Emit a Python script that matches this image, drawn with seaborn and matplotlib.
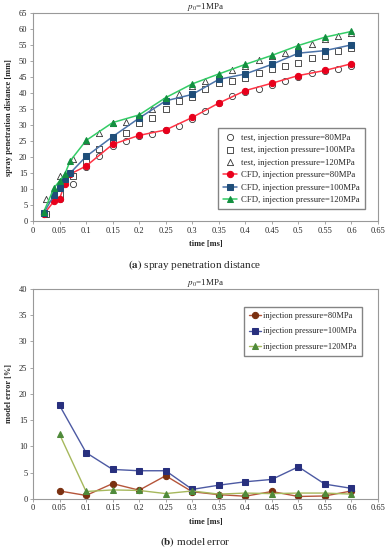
import numpy as np
import pandas as pd
import seaborn as sns
import matplotlib.pyplot as plt

# time points
t_test = [0.025, 0.05, 0.075, 0.1, 0.125, 0.15, 0.175, 0.2, 0.225, 0.25, 0.275, 0.3,
          0.325, 0.35, 0.375, 0.4, 0.425, 0.45, 0.475, 0.5, 0.525, 0.55, 0.575, 0.6]
t_cfd = [0.02, 0.04, 0.05, 0.06, 0.07, 0.1, 0.15, 0.2, 0.25, 0.3, 0.35, 0.4, 0.45,
         0.5, 0.55, 0.6]
t_err = [0.05, 0.1, 0.15, 0.2, 0.25, 0.3, 0.35, 0.4, 0.45, 0.5, 0.55, 0.6]

# spray penetration distance [mm], test data
test_80 = [2.2, 7.0, 11.6, 17.0, 20.3, 23.5, 25.0, 26.5, 27.3, 28.5, 29.8, 32.0,
           34.5, 37.0, 39.0, 40.5, 41.3, 42.5, 43.9, 45.2, 46.2, 47.0, 47.6, 48.6]
test_100 = [2.2, 8.6, 14.2, 18.9, 22.6, 25.4, 27.5, 30.6, 32.2, 35.1, 37.4, 38.9,
            41.2, 43.1, 43.8, 44.7, 46.2, 47.5, 48.5, 49.4, 50.9, 51.7, 53.2, 54.0]
test_120 = [7.0, 14.0, 19.4, 25.1, 27.5, 30.6, 31.1, 32.5, 35.0, 38.1, 39.8, 42.3,
            43.8, 45.5, 47.1, 48.5, 50.4, 51.5, 52.5, 54.6, 55.3, 57.0, 58.0, 58.8]

# spray penetration distance [mm], CFD
cfd_80 = [2.1, 6.3, 7.0, 11.6, 14.7, 17.2, 24.0, 26.8, 28.5, 32.4, 36.9, 40.8, 43.1,
          45.5, 47.1, 49.2]
cfd_100 = [2.5, 8.2, 10.3, 13.1, 15.0, 20.2, 26.4, 32.2, 37.6, 39.6, 44.3, 46.0, 49.0,
           52.5, 53.3, 55.1]
cfd_120 = [2.8, 10.5, 12.5, 14.7, 18.8, 25.2, 30.8, 33.2, 38.6, 42.9, 46.0, 49.0, 51.8,
           54.9, 57.5, 59.3]

# model error [%]
err_80 = [1.5, 0.65, 2.9, 1.65, 4.4, 1.35, 0.8, 0.5, 1.4, 0.45, 0.55, 1.5]
err_100 = [17.8, 8.8, 5.6, 5.35, 5.35, 1.8, 2.6, 3.25, 3.7, 6.1, 2.8, 2.0]
err_120 = [12.3, 1.4, 1.7, 1.6, 1.0, 1.5, 0.9, 1.1, 1.0, 1.1, 1.1, 0.9]

sns.set_style("ticks")
plt.rcParams['font.family'] = ['Liberation Serif', 'DejaVu Serif']
plt.rcParams['mathtext.fontset'] = 'stix'
plt.rcParams['font.size'] = 6

fig = plt.figure(figsize=(3.9, 5.5), dpi=100)
ax1 = fig.add_axes([0.0846, 0.598, 0.8846, 0.378])
ax2 = fig.add_axes([0.0846, 0.093, 0.8846, 0.382])

# (a) spray penetration distance
tests = [("test, injection pressure=80MPa", test_80, "o"),
         ("test, injection pressure=100MPa", test_100, "s"),
         ("test, injection pressure=120MPa", test_120, "^")]
for label, vals, mk in tests:
    sns.scatterplot(x=t_test, y=vals, marker=mk, s=20, facecolor="white",
                    edgecolor="#333333", linewidth=0.6, label=label, ax=ax1, zorder=3)

cfds = [("CFD, injection pressure=80MPa", cfd_80, "o", "#ff3344", "#e8001c"),
        ("CFD, injection pressure=100MPa", cfd_100, "s", "#4a72a8", "#1f4e79"),
        ("CFD, injection pressure=120MPa", cfd_120, "^", "#33cc66", "#139040")]
for label, vals, mk, lc, mc in cfds:
    sns.lineplot(x=t_cfd, y=vals, color=lc, marker=mk, markersize=4.5,
                 markerfacecolor=mc, markeredgecolor=mc, linewidth=1.1,
                 label=label, ax=ax1, zorder=4)

ax1.set_xlim(0, 0.65)
ax1.set_ylim(0, 65)
ax1.set_xticks(np.arange(0, 0.651, 0.05))
ax1.set_xticklabels(["0"] + [f"{v:g}" for v in np.arange(0.05, 0.651, 0.05).round(2)])
ax1.set_yticks(range(0, 66, 5))
ax1.set_xlabel("time [ms]", fontweight="bold", fontsize=6)
ax1.set_ylabel("spray penetration distance [mm]", fontweight="bold", fontsize=6)
ax1.set_title(r"$p_0$=1MPa", fontsize=6.5, pad=3)
ax1.legend(loc="lower right", fontsize=6.3, frameon=True, fancybox=False,
           edgecolor="#666666", handlelength=1.6, borderpad=0.6,
           labelspacing=0.5, handletextpad=0.4, bbox_to_anchor=(0.975, 0.035))

# (b) model error
errs = [("injection pressure=80MPa", err_80, "o", "#b5553a", "#7a3010"),
        ("injection pressure=100MPa", err_100, "s", "#4d5aa3", "#28307e"),
        ("injection pressure=120MPa", err_120, "^", "#a6b85c", "#4f8a3a")]
for label, vals, mk, lc, mc in errs:
    sns.lineplot(x=t_err, y=vals, color=lc, marker=mk, markersize=4.5,
                 markerfacecolor=mc, markeredgecolor=mc, linewidth=1.0,
                 label=label, ax=ax2)

ax2.set_xlim(0, 0.65)
ax2.set_ylim(0, 40)
ax2.set_xticks(np.arange(0, 0.651, 0.05))
ax2.set_xticklabels(["0"] + [f"{v:g}" for v in np.arange(0.05, 0.651, 0.05).round(2)])
ax2.set_yticks(range(0, 41, 5))
ax2.set_xlabel("time [ms]", fontweight="bold", fontsize=6)
ax2.set_ylabel("model error [%]", fontweight="bold", fontsize=6)
ax2.set_title(r"$p_0$=1MPa", fontsize=6.5, pad=3)
ax2.legend(loc="upper right", fontsize=6, frameon=True, fancybox=False,
           edgecolor="#666666", handlelength=1.4, borderpad=0.6,
           labelspacing=0.95, handletextpad=0.3, bbox_to_anchor=(0.965, 0.935))

for ax in (ax1, ax2):
    for sp in ax.spines.values():
        sp.set_visible(True)
        sp.set_color("#999999")
        sp.set_linewidth(0.8)
    ax.tick_params(labelsize=6, length=2, width=0.6, color="#999999", pad=2)

fig.text(0.5, 0.518, r"$\mathbf{(a)}$ spray penetration distance", ha="center",
         va="center", fontsize=8)
fig.text(0.5, 0.014, r"$\mathbf{(b)}$ model error", ha="center", va="center",
         fontsize=8)

fig.savefig("out.png", dpi=100)
